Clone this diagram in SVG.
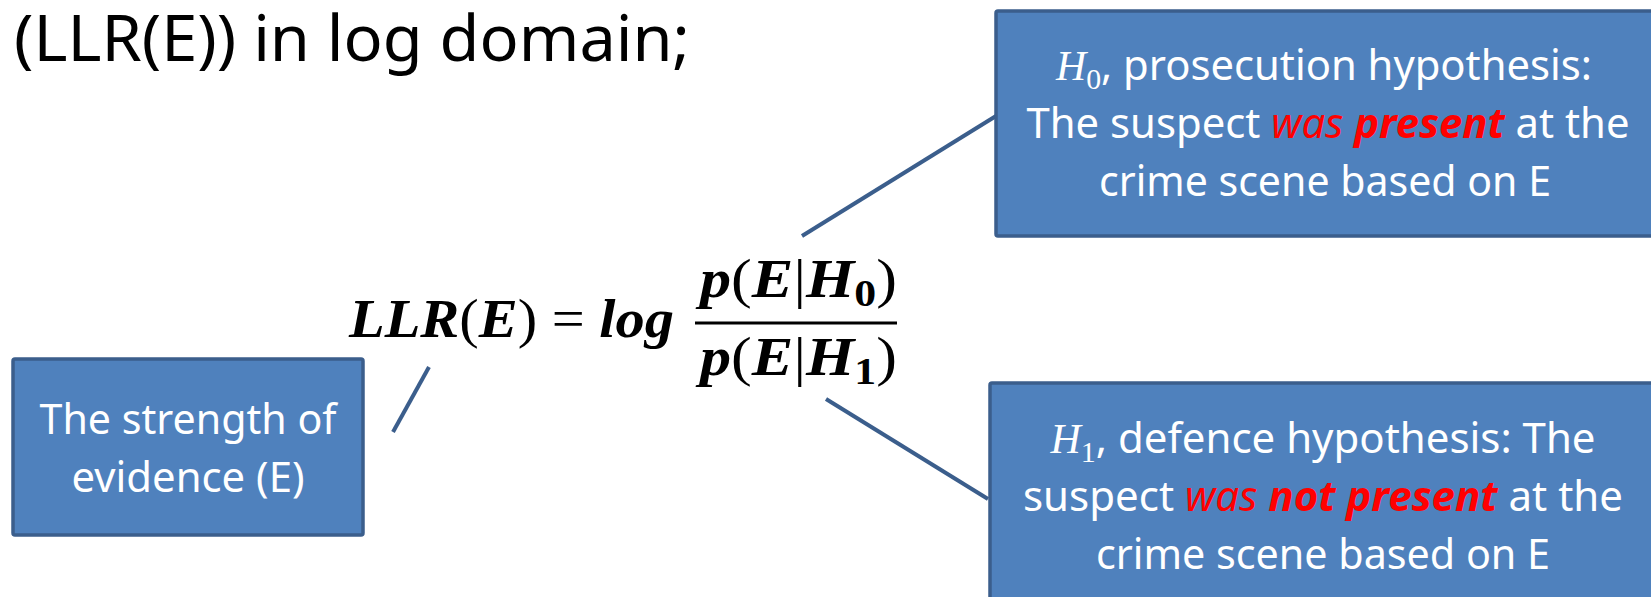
<svg xmlns="http://www.w3.org/2000/svg" width="1651" height="597" viewBox="0 0 1651 597">
<style>
.box{fill:#4f81bd;stroke:#3b5e8c;stroke-width:3.5}
.t{font-family:"Noto Sans","Open Sans",sans-serif;fill:#ffffff;font-size:42px;text-anchor:middle}
.red{fill:#ff0000;font-style:italic}
.b{font-weight:bold}
.m{font-family:"Liberation Serif","DejaVu Serif",serif;font-style:italic}
.s{font-family:"Liberation Serif","DejaVu Serif",serif;font-style:normal}
.f{font-family:"Liberation Serif","DejaVu Serif",serif;font-weight:bold;font-style:italic;font-size:54px;fill:#000}
.u{font-style:normal;font-weight:normal}
.conn{stroke:#3b5e8c;stroke-width:4;fill:none}
</style>
<rect width="1651" height="597" fill="#ffffff"/>
<text x="14" y="61" font-family="Noto Sans, Open Sans, sans-serif" font-size="64" fill="#000" textLength="676" lengthAdjust="spacingAndGlyphs">(LLR(E)) in log domain;</text>
<g id="connectors">
<line class="conn" x1="393" y1="432" x2="429" y2="367"/>
<line class="conn" x1="802" y1="236" x2="996" y2="116"/>
<line class="conn" x1="826" y1="399" x2="988" y2="499"/>
</g>
<g id="formula">
<text class="f" x="349" y="337" textLength="325" lengthAdjust="spacingAndGlyphs">LLR<tspan class="u">(</tspan>E<tspan class="u">) = </tspan>log</text>
<text class="f" x="700" y="297" textLength="197" lengthAdjust="spacingAndGlyphs">p<tspan class="u">(</tspan>E<tspan class="u">|</tspan>H<tspan font-style="normal" font-size="38" dy="9">0</tspan><tspan class="u" dy="-9">)</tspan></text>
<line x1="695" y1="323" x2="897" y2="323" stroke="#000" stroke-width="3"/>
<text class="f" x="700" y="375" textLength="197" lengthAdjust="spacingAndGlyphs">p<tspan class="u">(</tspan>E<tspan class="u">|</tspan>H<tspan font-style="normal" font-size="38" dy="9">1</tspan><tspan class="u" dy="-9">)</tspan></text>
</g>
<g id="evidence">
<rect class="box" x="13" y="359" width="350" height="176" rx="2"/>
<text class="t" x="188" y="434" textLength="297" lengthAdjust="spacingAndGlyphs">The strength of</text>
<text class="t" x="188" y="492" textLength="233" lengthAdjust="spacingAndGlyphs">evidence (E)</text>
</g>
<g id="h0">
<rect class="box" x="996" y="11" width="670" height="225" rx="2"/>
<text class="t" x="1324" y="80" textLength="536" lengthAdjust="spacingAndGlyphs"><tspan class="m">H</tspan><tspan class="s" font-size="30" dy="9">0</tspan><tspan dy="-9">, prosecution hypothesis:</tspan></text>
<text class="t" x="1328" y="138" textLength="603" lengthAdjust="spacingAndGlyphs">The suspect <tspan class="red">was </tspan><tspan class="red b">present</tspan> at the</text>
<text class="t" x="1325" y="196" textLength="452" lengthAdjust="spacingAndGlyphs">crime scene based on E</text>
</g>
<g id="h1">
<rect class="box" x="990" y="383" width="676" height="230" rx="2"/>
<text class="t" x="1323" y="453" textLength="545" lengthAdjust="spacingAndGlyphs"><tspan class="m">H</tspan><tspan class="s" font-size="30" dy="9">1</tspan><tspan dy="-9">, defence hypothesis: The</tspan></text>
<text class="t" x="1323" y="511" textLength="600" lengthAdjust="spacingAndGlyphs">suspect <tspan class="red">was </tspan><tspan class="red b">not present</tspan> at the</text>
<text class="t" x="1323" y="569" textLength="454" lengthAdjust="spacingAndGlyphs">crime scene based on E</text>
</g>
</svg>
